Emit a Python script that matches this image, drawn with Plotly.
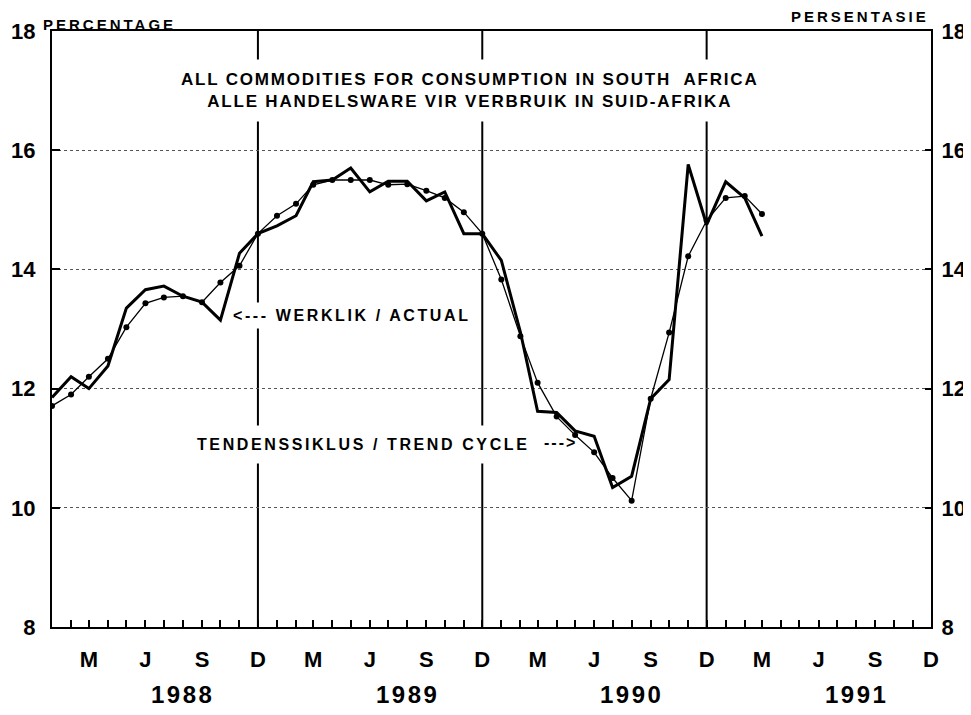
import pandas as pd
import plotly.graph_objects as go

# ---------------- data ----------------
months = pd.date_range("1988-01-01", "1991-03-01", freq="MS")

actual = [
    11.85, 12.20, 12.00, 12.38, 13.35, 13.66, 13.72, 13.55, 13.45, 13.15, 14.27, 14.60,  # 1988
    14.73, 14.90, 15.47, 15.50, 15.70, 15.30, 15.48, 15.48, 15.15, 15.30, 14.60, 14.60,  # 1989
    14.15, 12.95, 11.62, 11.60, 11.29, 11.20, 10.34, 10.53, 11.83, 12.15, 15.76, 14.75,  # 1990
    15.47, 15.20, 14.56,                                                                  # 1991
]

trend = [
    11.71, 11.90, 12.20, 12.50, 13.03, 13.43, 13.53, 13.55, 13.45, 13.78, 14.06, 14.60,  # 1988
    14.90, 15.10, 15.42, 15.50, 15.50, 15.50, 15.42, 15.43, 15.32, 15.20, 14.96, 14.60,  # 1989
    13.83, 12.88, 12.10, 11.53, 11.22, 10.93, 10.50, 10.12, 11.83, 12.94, 14.22, 14.82,  # 1990
    15.20, 15.23, 14.93,                                                                  # 1991
]

tick_dates = pd.date_range("1988-01-01", "1991-12-01", freq="MS")
month_letters = {3: "M", 6: "J", 9: "S", 12: "D"}
tick_text = [month_letters.get(d.month, "") for d in tick_dates]

year_labels = ["1988", "1989", "1990", "1991"]
year_label_dates = ["1988-08-01", "1989-08-01", "1990-08-01", "1991-08-01"]
year_end_dates = ["1988-12-01", "1989-12-01", "1990-12-01"]
y_ticks = [8, 10, 12, 14, 16, 18]

FONT = "Liberation Sans, Arial, Helvetica, sans-serif"


def spaced(txt, ls):
    return f"<span style='letter-spacing:{ls}px'>{txt}</span>"


fig = go.Figure()
fig.add_trace(go.Scatter(
    x=months, y=trend, mode="lines+markers", name="Tendenssiklus / Trend cycle",
    line=dict(color="black", width=1.3),
    marker=dict(size=6, color="black", symbol="circle"),
))
fig.add_trace(go.Scatter(
    x=months, y=actual, mode="lines", name="Werklik / Actual",
    line=dict(color="black", width=3),
))
# invisible trace on the right axis so it is drawn
fig.add_trace(go.Scatter(x=[months[0]], y=[None], yaxis="y2", showlegend=False,
                         hoverinfo="skip", mode="lines"))

for d in year_end_dates:
    fig.add_vline(x=d, line=dict(color="black", width=2), layer="below")

annotations = [
    dict(text=spaced("ALL COMMODITIES FOR CONSUMPTION IN SOUTH  AFRICA", 1.8) + "<br>"
         + spaced("ALLE HANDELSWARE VIR VERBRUIK IN SUID-AFRIKA", 1.8),
         xref="paper", yref="paper", x=0.475, y=0.901, xanchor="center", yanchor="middle",
         font=dict(size=17, family=FONT, color="black", weight="bold"),
         bgcolor="white", borderpad=10, showarrow=False),
    dict(text=spaced("PERCENTAGE", 3.0), xref="paper", yref="paper", x=0.065, y=1.0117,
         xanchor="center", yanchor="middle",
         font=dict(size=15, family=FONT, color="black", weight="bold"), showarrow=False),
    dict(text=spaced("PERSENTASIE", 3.0), xref="paper", yref="paper", x=0.919, y=1.0243,
         xanchor="center", yanchor="middle",
         font=dict(size=15, family=FONT, color="black", weight="bold"), showarrow=False),
    dict(text=spaced("&lt;--- WERKLIK / ACTUAL", 2.6), xref="paper", yref="paper",
         x=0.200, y=0.523, xanchor="left", yanchor="middle",
         font=dict(size=16, family=FONT, color="black", weight="bold"),
         bgcolor="white", borderpad=4, showarrow=False),
    dict(text=spaced("TENDENSSIKLUS / TREND CYCLE", 2.6), xref="paper", yref="paper",
         x=0.152, y=0.3066, xanchor="left", yanchor="middle",
         font=dict(size=16, family=FONT, color="black", weight="bold"),
         bgcolor="white", borderpad=10, showarrow=False),
    dict(text=spaced("---&gt;", 2.0), xref="paper", yref="paper",
         x=0.5575, y=0.309, xanchor="left", yanchor="middle",
         font=dict(size=16, family=FONT, color="black", weight="bold"), showarrow=False),
]
for yl, yd in zip(year_labels, year_label_dates):
    annotations.append(dict(
        text=spaced(yl, 2.5), xref="x", yref="paper", x=yd, y=0, yshift=-67,
        xanchor="center", yanchor="middle", showarrow=False,
        font=dict(size=24, family=FONT, color="black", weight="bold")))

# the page places the figure 8 px in from the top-left corner of the window
fig.update_layout(
    width=963, height=707,
    margin=dict(l=44, r=40, t=23, b=88, autoexpand=False),
    paper_bgcolor="white", plot_bgcolor="white",
    showlegend=False,
    font=dict(family=FONT, color="black"),
    annotations=annotations,
    xaxis=dict(
        type="date", range=["1988-01-01", "1991-12-01"],
        tickmode="array", tickvals=tick_dates, ticktext=tick_text,
        ticks="inside", ticklen=7, tickwidth=1.5, tickcolor="black",
        showline=True, linewidth=2, linecolor="black", mirror=True,
        showgrid=False, zeroline=False, automargin=False,
        tickfont=dict(size=22, family=FONT, color="black", weight="bold"),
        ticklabelstandoff=12,
    ),
    yaxis=dict(
        range=[8, 18], tickmode="array", tickvals=y_ticks,
        ticks="inside", ticklen=8, tickwidth=1.5, tickcolor="black",
        showline=True, linewidth=2, linecolor="black", mirror=True,
        showgrid=True, gridcolor="#555555", griddash="dot", gridwidth=1,
        zeroline=False, automargin=False,
        tickfont=dict(size=22, family=FONT, color="black", weight="bold"),
        ticklabelstandoff=10,
    ),
    yaxis2=dict(
        overlaying="y", side="right", range=[8, 18], tickmode="array", tickvals=y_ticks,
        ticks="inside", ticklen=6, tickwidth=1.5, tickcolor="black",
        showline=True, linewidth=2, linecolor="black",
        showgrid=False, zeroline=False, automargin=False,
        tickfont=dict(size=22, family=FONT, color="black", weight="bold"),
        ticklabelstandoff=4,
    ),
)

fig.write_html("out.html")
